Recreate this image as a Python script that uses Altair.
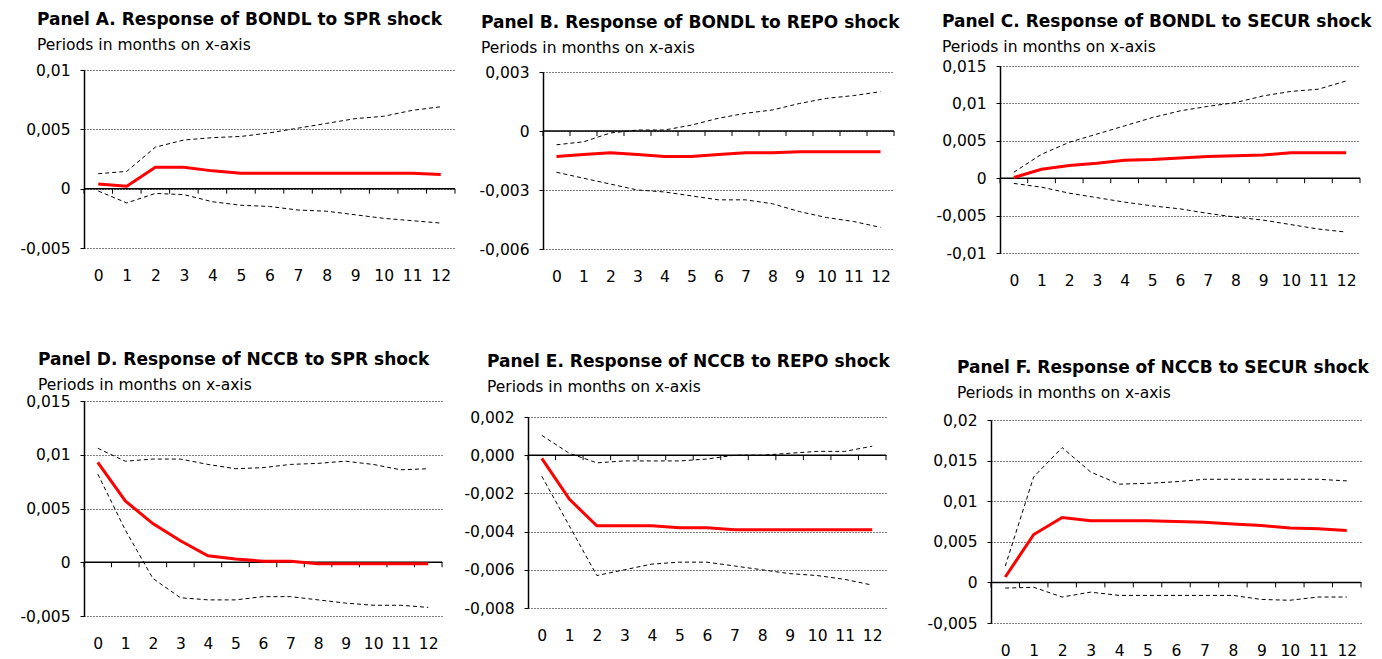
import altair as alt
import pandas as pd

FONT = "DejaVu Sans"
periods = list(range(13))

# Panel A: BONDL to SPR
A_irf = [0.0004, 0.0002, 0.0018, 0.0018, 0.0015, 0.0013, 0.0013, 0.0013, 0.0013, 0.0013, 0.0013, 0.0013, 0.0012]
A_upper = [0.00126, 0.00146, 0.0035, 0.0041, 0.0043, 0.0044, 0.0047, 0.0051, 0.0055, 0.0059, 0.0061, 0.0066, 0.0069]
A_lower = [-0.0002, -0.0012, -0.0004, -0.0005, -0.0011, -0.0014, -0.0015, -0.0018, -0.0019, -0.0022, -0.0025, -0.0027, -0.0029]
A_ticks = [-0.005, 0, 0.005, 0.01]

# Panel B: BONDL to REPO
B_irf = [-0.0013, -0.0012, -0.0011, -0.0012, -0.0013, -0.0013, -0.0012, -0.0011, -0.0011, -0.00105, -0.00105, -0.00105, -0.00105]
B_upper = [-0.0007, -0.00055, -0.0001, 0.00005, 0.00005, 0.0003, 0.00065, 0.0009, 0.00107, 0.0014, 0.00166, 0.0018, 0.002]
B_lower = [-0.0021, -0.0024, -0.0027, -0.003, -0.0031, -0.0033, -0.0035, -0.0035, -0.0037, -0.0041, -0.0044, -0.0046, -0.0049]
B_ticks = [-0.006, -0.003, 0, 0.003]

# Panel C: BONDL to SECUR
C_irf = [0.0001, 0.0012, 0.0017, 0.002, 0.0024, 0.0025, 0.0027, 0.0029, 0.003, 0.0031, 0.0034, 0.0034, 0.0034]
C_upper = [0.0008, 0.0032, 0.0048, 0.0059, 0.007, 0.0081, 0.009, 0.0096, 0.0101, 0.011, 0.0116, 0.0119, 0.013]
C_lower = [-0.0007, -0.0012, -0.002, -0.0026, -0.0032, -0.0037, -0.0041, -0.0047, -0.0052, -0.0056, -0.0062, -0.0068, -0.0072]
C_ticks = [-0.01, -0.005, 0, 0.005, 0.01, 0.015]

# Panel D: NCCB to SPR
D_irf = [0.0093, 0.0057, 0.0036, 0.002, 0.0006, 0.0003, 0.0001, 0.0001, -0.00015, -0.00015, -0.00015, -0.00015, -0.00015]
D_upper = [0.0106, 0.0094, 0.0096, 0.0096, 0.0091, 0.0087, 0.0088, 0.0091, 0.0092, 0.0094, 0.0091, 0.0086, 0.0087]
D_lower = [0.0082, 0.003, -0.0015, -0.0033, -0.0035, -0.0035, -0.0032, -0.0032, -0.0035, -0.0038, -0.004, -0.004, -0.0042]
D_ticks = [-0.005, 0, 0.005, 0.01, 0.015]

# Panel E: NCCB to REPO
E_irf = [-0.00017, -0.0023, -0.0037, -0.0037, -0.0037, -0.0038, -0.0038, -0.0039, -0.0039, -0.0039, -0.0039, -0.0039, -0.0039]
E_upper = [0.00104, 0.0001, -0.0004, -0.0003, -0.0003, -0.0003, -0.0002, 0.0, 0.0, 0.0001, 0.0002, 0.0002, 0.00047]
E_lower = [-0.0011, -0.0037, -0.0063, -0.006, -0.0057, -0.0056, -0.0056, -0.0058, -0.006, -0.0062, -0.0063, -0.0065, -0.0068]
E_ticks = [-0.008, -0.006, -0.004, -0.002, 0, 0.002]

# Panel F: NCCB to SECUR
F_irf = [0.00066, 0.0059, 0.008, 0.0076, 0.0076, 0.0076, 0.0075, 0.0074, 0.0072, 0.007, 0.0067, 0.0066, 0.0064]
F_upper = [0.002, 0.013, 0.0166, 0.0136, 0.0121, 0.0122, 0.0124, 0.0127, 0.0127, 0.0127, 0.0127, 0.0127, 0.0125]
F_lower = [-0.0007, -0.0006, -0.0018, -0.0012, -0.0016, -0.0016, -0.0016, -0.0016, -0.0016, -0.0021, -0.0022, -0.0018, -0.0018]
F_ticks = [-0.005, 0, 0.005, 0.01, 0.015, 0.02]

TITLES = {
    "A": "Panel A. Response of BONDL to SPR shock",
    "B": "Panel B. Response of BONDL to REPO shock",
    "C": "Panel C. Response of BONDL to SECUR shock",
    "D": "Panel D. Response of NCCB to SPR shock",
    "E": "Panel E. Response of NCCB to REPO shock",
    "F": "Panel F. Response of NCCB to SECUR shock",
}
SUBTITLE = "Periods in months on x-axis"

GEN_EXPR = "replace(toString(datum.value), '.', ',')"
FIX_EXPR = "datum.value == 0 ? '0,000' : replace(toString(datum.value), '.', ',')"

boundaries = [p - 0.5 for p in periods] + [periods[-1] + 0.5]


def panel(key, irf, upper, lower, yticks, width, plot_h, top_pad, dx, offset, extent, lexpr):
    total_h = top_pad + plot_h
    df = pd.DataFrame({"period": periods, "irf": irf, "upper": upper, "lower": lower})
    bdf = pd.DataFrame({"b": boundaries})
    zdf = pd.DataFrame({"z": [0]})
    xscale = alt.Scale(domain=[-0.5, 12.5], nice=False, zero=False)
    yscale = alt.Scale(domain=[yticks[0], yticks[-1]], range=[total_h, top_pad], nice=False, zero=False)
    xaxis = alt.Axis(values=periods, grid=False, domain=False, ticks=False, tickSize=0,
                     labelPadding=20, labelFlush=False, labelOverlap=False, title=None,
                     labelFont=FONT, labelFontSize=15.5, labelColor="black")
    yaxis = alt.Axis(values=yticks, grid=True, gridColor="black", gridDash=[1, 2], gridWidth=1,
                     domain=True, domainColor="black", domainWidth=1.5, ticks=True, tickColor="black",
                     tickSize=4, labelPadding=10, labelExpr=lexpr, minExtent=extent,
                     labelOverlap=False, labelFlush=False, title=None,
                     labelFont=FONT, labelFontSize=15.5, labelColor="black")

    zero = alt.Chart(zdf).mark_rule(color="black", strokeWidth=1.5).encode(
        y=alt.Y("z:Q", scale=yscale, axis=yaxis))
    ticks = alt.Chart(bdf).mark_rule(color="black", strokeWidth=1, y2Offset=5).encode(
        x=alt.X("b:Q", scale=xscale, axis=xaxis),
        y=alt.Y(datum=0, scale=yscale, axis=yaxis),
        y2=alt.datum(0))
    base = alt.Chart(df)
    up = base.mark_line(color="black", strokeWidth=1, strokeDash=[4, 3]).encode(
        x=alt.X("period:Q", scale=xscale, axis=xaxis),
        y=alt.Y("upper:Q", scale=yscale, axis=yaxis))
    lo = base.mark_line(color="black", strokeWidth=1, strokeDash=[4, 3]).encode(
        x=alt.X("period:Q", scale=xscale, axis=xaxis),
        y=alt.Y("lower:Q", scale=yscale, axis=yaxis))
    red = base.mark_line(color="#ff0000", strokeWidth=3).encode(
        x=alt.X("period:Q", scale=xscale, axis=xaxis),
        y=alt.Y("irf:Q", scale=yscale, axis=yaxis))

    return alt.layer(zero, ticks, up, lo, red).properties(
        width=width, height=total_h,
        title=alt.TitleParams(
            text=TITLES[key], subtitle=SUBTITLE, anchor="start", frame="group",
            dx=dx, offset=offset, font=FONT, fontSize=17, fontWeight="bold", color="black",
            subtitleFont=FONT, subtitleFontSize=15.5, subtitleColor="black", subtitlePadding=9,
        ),
    )


pA = panel("A", A_irf, A_upper, A_lower, A_ticks, 371, 178, 4, -47, 8.5, 76, GEN_EXPR)
pB = panel("B", B_irf, B_upper, B_lower, B_ticks, 351, 177, 6, -62, 7.5, 69, GEN_EXPR)
pC = panel("C", C_irf, C_upper, C_lower, C_ticks, 360, 187, 0, -58, 2.5, 82, GEN_EXPR)
pD = panel("D", D_irf, D_upper, D_lower, D_ticks, 358, 215, 0, -46, 0, 75, GEN_EXPR)
pE = panel("E", E_irf, E_upper, E_lower, E_ticks, 358, 191, 16, -41, 4.5, 67, FIX_EXPR)
pF = panel("F", F_irf, F_upper, F_lower, F_ticks, 370, 203, 19, -34, -1.5, 83, GEN_EXPR)

row1 = alt.hconcat(pA, pB, pC, spacing=18).resolve_scale(x="independent", y="independent")
row2 = alt.hconcat(pD, pE, pF, spacing=18).resolve_scale(x="independent", y="independent")

chart = alt.vconcat(row1, row2, spacing=61).resolve_scale(
    x="independent", y="independent"
).properties(
    padding={"left": 0, "top": 3, "right": 0, "bottom": 0},
    background="white",
).configure_view(strokeWidth=0)

chart.save("out.html", embed_options={"renderer": "svg", "actions": False})
